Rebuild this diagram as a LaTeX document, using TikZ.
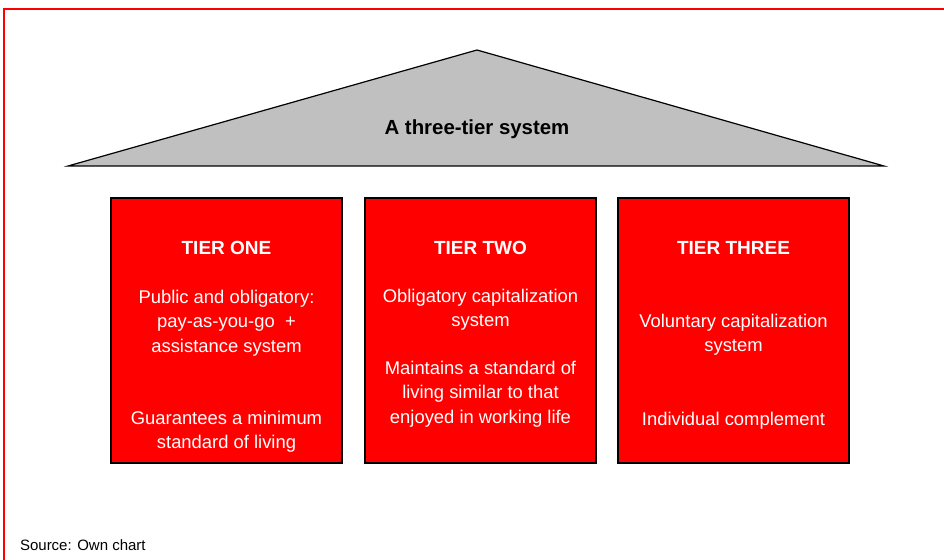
\documentclass[tikz,border=0pt]{standalone}
\usepackage{fontspec}
\setmainfont{Liberation Sans}
\definecolor{tierred}{HTML}{FF0000}
\definecolor{roofgray}{HTML}{C0C0C0}
\tikzset{
  roof/.style    = { draw=black, fill=roofgray, line width=0.6pt },
  tier/.style    = { draw=black, fill=tierred, line width=0.6pt, minimum width=115.5pt, minimum height=132.5pt, inner sep=0pt },
  heading/.style = { text=white, font=\fontsize{9.5}{12}\selectfont\bfseries },
  body/.style    = { text=white, align=center, font=\fontsize{9.2}{12.2}\selectfont },
  frame/.style   = { draw=tierred, line width=0.8pt }
}

\begin{document}
\begin{tikzpicture}[x=0.5pt, y=-0.5pt]
  \useasboundingbox (0,0) rectangle (944,560);
  % Draw the frame
  \draw[frame] (4,560) -- (4,9) -- (944,9);
  % Draw the roof
  \coordinate (apex) at (477,50);
  \coordinate (eaveL) at (68,166);
  \coordinate (eaveR) at (884,166);
  \draw[roof] (eaveL) -- (apex) -- (eaveR) -- cycle;
  \node[font=\fontsize{10.2}{12}\selectfont\bfseries] (title) at (477,129) {A three-tier system};
  % Draw the tiers
  \node[tier] (one)   at (226.5,330.5) {};
  \node[tier] (two)   at (480.5,330.5) {};
  \node[tier] (three) at (733.5,330.5) {};
  % Draw labels
  \node[heading] (oneHead)   at (226.5,248) {TIER ONE};
  \node[heading] (twoHead)   at (480.5,248) {TIER TWO};
  \node[heading] (threeHead) at (733.5,248) {TIER THREE};
  \node[body] (oneA) at (226.5,323) {Public and obligatory:\\pay-as-you-go\ \ +\\assistance system};
  \node[body] (oneB) at (226.5,432) {Guarantees a minimum\\standard of living};
  \node[body] (twoA) at (480.5,310) {Obligatory capitalization\\system};
  \node[body] (twoB) at (480.5,394) {Maintains a standard of\\living similar to that\\enjoyed in working life};
  \node[body] (threeA) at (733.5,335) {Voluntary capitalization\\system};
  \node[body] (threeB) at (733.5,421) {Individual complement};
  % Draw annotations
  \node[anchor=west, font=\fontsize{7.5}{9}\selectfont] (source) at (13,545) {Source: Own chart};
\end{tikzpicture}
\end{document}
